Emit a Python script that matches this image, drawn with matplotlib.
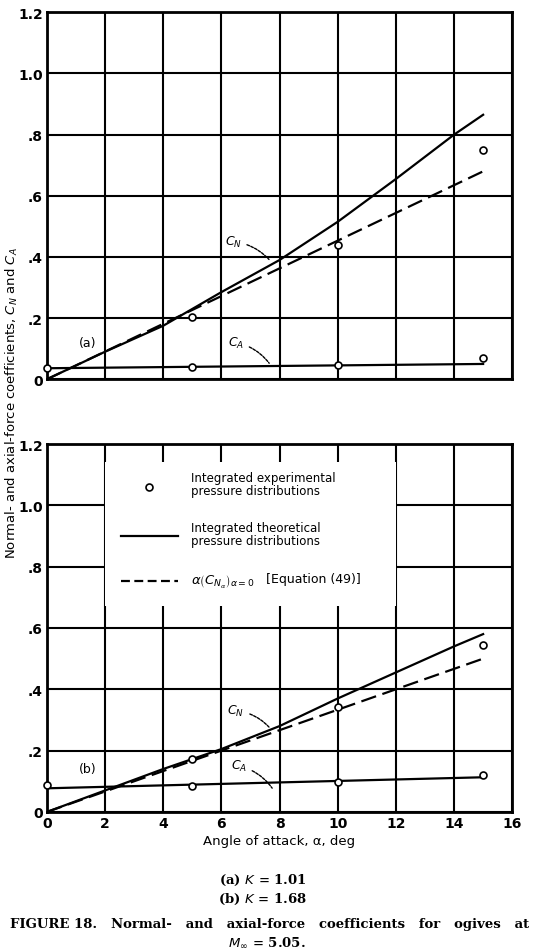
import numpy as np
import matplotlib
matplotlib.use('Agg')
import matplotlib.pyplot as plt
from matplotlib.patches import Rectangle

# angle of attack, deg
alpha_theory = [0, 2, 4, 6, 8, 10, 12, 14, 15]
alpha_lin = [0, 15]
alpha_exp = [0, 5, 10, 15]
alpha_cn_exp = [5, 10, 15]

# (a) K = 1.01
cn_theory_a = [0, 0.09, 0.175, 0.285, 0.39, 0.515, 0.655, 0.80, 0.865]
cn_lin_a = [0, 0.68]
ca_theory_a = [0.036, 0.050]
cn_exp_a = [0.205, 0.44, 0.75]
ca_exp_a = [0.036, 0.040, 0.047, 0.071]

# (b) K = 1.68
cn_theory_b = [0, 0.07, 0.14, 0.205, 0.28, 0.37, 0.455, 0.54, 0.58]
cn_lin_b = [0, 0.50]
ca_theory_b = [0.077, 0.113]
cn_exp_b = [0.173, 0.343, 0.545]
ca_exp_b = [0.089, 0.085, 0.097, 0.122]

xticks = [0, 2, 4, 6, 8, 10, 12, 14, 16]
yticks = [0, 0.2, 0.4, 0.6, 0.8, 1.0, 1.2]
yticklabels = ['0', '.2', '.4', '.6', '.8', '1.0', '1.2']

DASH = (0, (7, 3))
LW = 1.6


def setup(ax, show_x):
    ax.set_xlim(0, 16)
    ax.set_ylim(0, 1.2)
    ax.set_xticks(xticks)
    ax.set_yticks(yticks)
    ax.set_yticklabels(yticklabels, fontsize=10, fontweight='bold')
    if show_x:
        ax.set_xticklabels([str(t) for t in xticks], fontsize=10, fontweight='bold')
    else:
        ax.set_xticklabels([])
    ax.tick_params(length=0, pad=3)
    ax.set_axisbelow(True)
    ax.grid(True, color='k', lw=1.5)
    for s in ax.spines.values():
        s.set_linewidth(2)


def draw(ax, cn_th, cn_lin, ca_th, cn_ex, ca_ex):
    ax.plot(alpha_theory, cn_th, color='k', lw=LW, zorder=3)
    ax.plot(alpha_lin, cn_lin, color='k', lw=LW, ls=DASH, zorder=3)
    ax.plot(alpha_lin, ca_th, color='k', lw=LW, zorder=3)
    mk = dict(ls='none', marker='o', ms=5, mfc='white', mec='k', mew=1.2, zorder=4, clip_on=False)
    ax.plot(alpha_cn_exp, cn_ex, **mk)
    ax.plot(alpha_exp, ca_ex, **mk)


fig = plt.figure(figsize=(5.33, 9.53), dpi=100)
ax1 = fig.add_axes([0.088, 0.601, 0.873, 0.385])
ax2 = fig.add_axes([0.088, 0.147, 0.873, 0.386])
setup(ax1, False)
setup(ax2, True)

draw(ax1, cn_theory_a, cn_lin_a, ca_theory_a, cn_exp_a, ca_exp_a)
draw(ax2, cn_theory_b, cn_lin_b, ca_theory_b, cn_exp_b, ca_exp_b)

lead = dict(arrowstyle='-', lw=1, ls=(0, (2, 1)), color='k',
            connectionstyle='arc3,rad=-0.2')
# labels, panel (a)
ax1.text(1.1, 0.11, '(a)', fontsize=9)
ax1.annotate('$C_N$', xy=(7.7, 0.385), xytext=(6.4, 0.45), fontsize=9,
             ha='center', va='center', arrowprops=lead)
ax1.annotate('$C_A$', xy=(7.7, 0.045), xytext=(6.5, 0.12), fontsize=9,
             ha='center', va='center', arrowprops=lead)
# labels, panel (b)
ax2.text(1.1, 0.13, '(b)', fontsize=9)
ax2.annotate('$C_N$', xy=(7.7, 0.27), xytext=(6.5, 0.33), fontsize=9,
             ha='center', va='center', arrowprops=lead)
ax2.annotate('$C_A$', xy=(7.8, 0.07), xytext=(6.6, 0.15), fontsize=9,
             ha='center', va='center', arrowprops=lead)

# legend box in panel (b)
ax2.add_patch(Rectangle((2, 0.672), 10, 0.47, facecolor='white', edgecolor='none', zorder=1))
ax2.plot([3.52], [1.06], ls='none', marker='o', ms=5, mfc='white', mec='k', mew=1.2, zorder=4)
ax2.text(4.95, 1.07, 'Integrated experimental\npressure distributions', fontsize=8.5,
         va='center', linespacing=1.0, zorder=4)
ax2.plot([2.55, 4.5], [0.90, 0.90], color='k', lw=LW, zorder=4)
ax2.text(4.95, 0.905, 'Integrated theoretical\npressure distributions', fontsize=8.5,
         va='center', linespacing=1.0, zorder=4)
ax2.plot([2.55, 4.5], [0.754, 0.754], color='k', lw=LW, ls=(0, (4, 2)), zorder=4)
ax2.text(4.95, 0.755, r'$\alpha\left(C_{N_\alpha}\right)_{\alpha=0}$', fontsize=9.5,
         va='center', zorder=4)
ax2.text(7.55, 0.76, '[Equation (49)]', fontsize=9, va='center', zorder=4)

ax2.set_xlabel('Angle of attack, α, deg', fontsize=9.5, labelpad=3)
fig.text(0.023, 0.577, 'Normal- and axial-force coefficients, $C_N$ and $C_A$',
         rotation=90, ha='center', va='center', fontsize=9.5)

cap = dict(family='DejaVu Serif', ha='center', va='center', fontweight='bold')
fig.text(0.493, 1 - 880 / 953, '(a) $K$ = 1.01', fontsize=9.5, **cap)
fig.text(0.493, 1 - 899 / 953, '(b) $K$ = 1.68', fontsize=9.5, **cap)
fig.text(0.505, 1 - 925 / 953,
         'FIGURE 18.   Normal-   and   axial-force   coefficients   for   ogives   at',
         fontsize=9.5, **cap)
fig.text(0.5, 1 - 943 / 953, r'$M_\infty$ = 5.05.', fontsize=9.5, **cap)

fig.savefig('out.png', dpi=100)
